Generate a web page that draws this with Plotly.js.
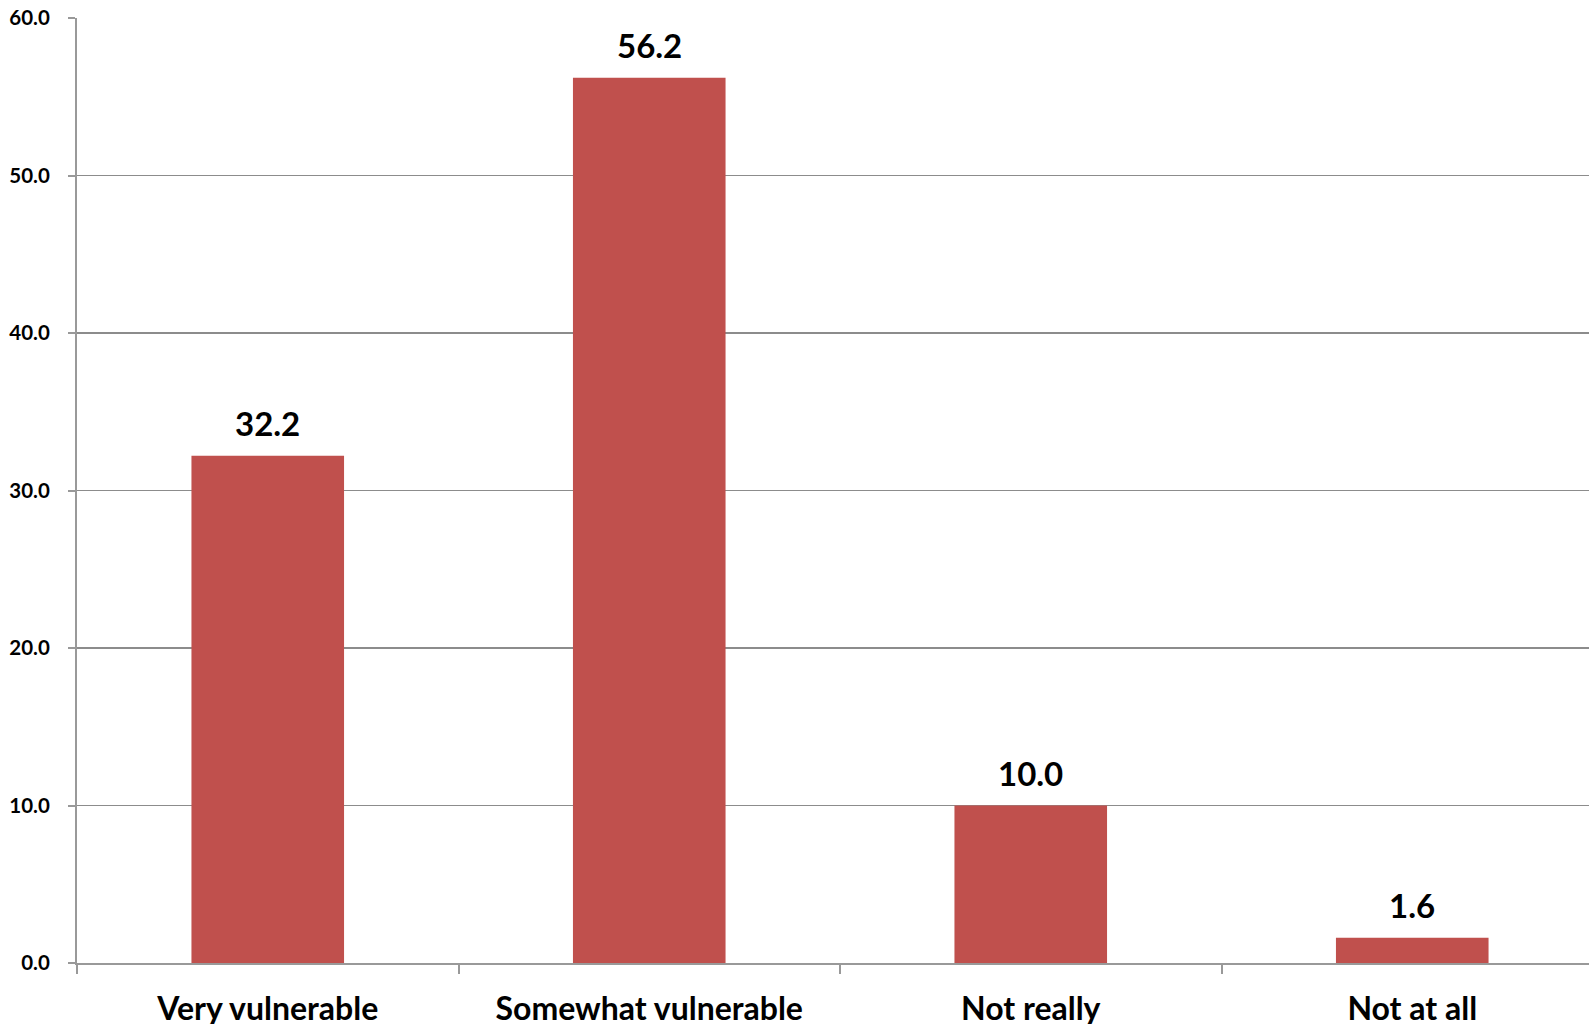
<!DOCTYPE html>
<html>
<head>
<meta charset="utf-8">
<script src="https://cdn.plot.ly/plotly-3.0.1.min.js"></script>
<style>
html, body { margin: 0; padding: 0; overflow: hidden; background: #fff; }
#chart { width: 1610px; height: 1024px; }
</style>
</head>
<body>
<div id="chart"></div>
<script>
const categories = ["Very vulnerable", "Somewhat vulnerable", "Not really", "Not at all"];
const values = [32.2, 56.2, 10.0, 1.6];
const yTickVals = [0, 10, 20, 30, 40, 50, 60];
const yTickText = ["0.0", "10.0", "20.0", "30.0", "40.0", "50.0", "60.0"];

const FONT = "Lato, 'Open Sans', sans-serif";

const trace = {
  type: "bar",
  x: categories,
  y: values,
  marker: { color: "#C0504D", line: { width: 0 } },
  hoverinfo: "x+y"
};

const annotations = categories.map((c, i) => ({
  x: c,
  y: values[i],
  xref: "x",
  yref: "y",
  text: values[i].toFixed(1),
  showarrow: false,
  yanchor: "bottom",
  yshift: 11,
  font: { family: FONT, size: 33, weight: "bold", color: "#000" }
}));

const layout = {
  width: 1610,
  height: 1024,
  margin: { l: 77, r: 7, t: 18, b: 61 },
  paper_bgcolor: "#fff",
  plot_bgcolor: "#fff",
  showlegend: false,
  bargap: 0.6,
  xaxis: {
    type: "category",
    tickson: "boundaries",
    ticks: "outside",
    ticklen: 9,
    tickcolor: "#999",
    tickwidth: 2,
    showline: true,
    linecolor: "#999",
    linewidth: 2,
    showgrid: false,
    ticklabelstandoff: 17,
    tickfont: { family: FONT, size: 32, weight: "bold", color: "#000" }
  },
  yaxis: {
    range: [0, 60],
    tickvals: yTickVals,
    ticktext: yTickText,
    ticks: "outside",
    ticklen: 7,
    tickcolor: "#999",
    tickwidth: 2,
    showline: true,
    linecolor: "#999",
    linewidth: 2,
    showgrid: true,
    gridcolor: "#8c8c8c",
    gridwidth: 1.6,
    zeroline: false,
    ticklabelstandoff: 14,
    tickfont: { family: FONT, size: 20.5, weight: "bold", color: "#000" }
  },
  annotations: annotations
};

Plotly.newPlot("chart", [trace], layout, { displayModeBar: false, staticPlot: true });
</script>
</body>
</html>
